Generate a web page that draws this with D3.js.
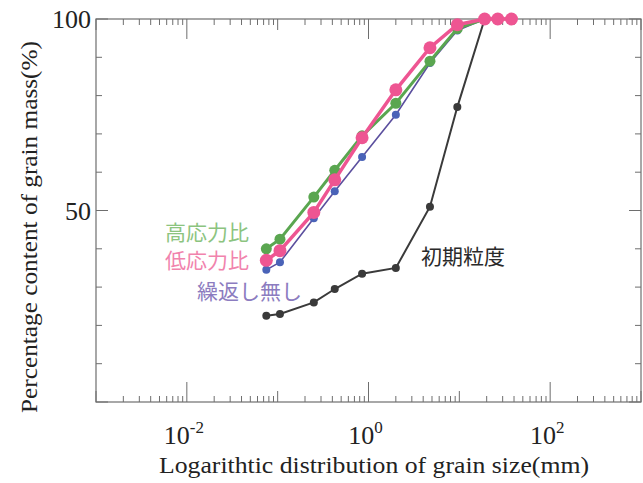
<!DOCTYPE html>
<html>
<head>
<meta charset="utf-8">
<script src="https://cdn.jsdelivr.net/npm/d3@7"></script>
<style>
  body { margin: 0; background: #fff; }
  svg { display: block; }
</style>
</head>
<body>
<svg id="chart" width="643" height="483"></svg>
<script>
// sieve sizes (mm)
var sizes = [0.075, 0.106, 0.25, 0.425, 0.85, 2, 4.75, 9.5, 19, 26.5, 37.5]

var initialPass = [22.5, 23, 26, 29.5, 33.5, 35, 51, 77, 100]
var highRatio   = [40, 42.5, 53.5, 60.5, 69.5, 78, 89, 97.5, 100, 100, 100]
var lowRatio    = [37, 39.5, 49.5, 58, 69, 81.5, 92.5, 98.5, 100, 100, 100]
var noCycle     = [34.5, 36.5, 48, 55, 64, 75, 88.5, 97, 100, 100, 100]

var xDecades = [-3, -2, -1, 0, 1, 2, 3]
var xLabelled = [-2, 0, 2]
var yTicks = [0, 10, 20, 30, 40, 50, 60, 70, 80, 90, 100]
var yLabels = [50, 100]

var svg = d3.select("#chart")
var L = 96, R = 641, T = 19, B = 402

var x = d3.scaleLog().domain([1e-3, 1e3]).range([L, R])
var y = d3.scaleLinear().domain([0, 100]).range([B, T])

var frame = "#6e6e6e"
var serif = "'Liberation Serif', 'Times New Roman', serif"
var cjk = "'Noto Sans CJK JP', sans-serif"

// frame
svg.append("rect")
  .attr("x", L).attr("y", T)
  .attr("width", R - L).attr("height", B - T)
  .attr("fill", "none").attr("stroke", frame).attr("stroke-width", 1.2)

// log ticks top and bottom, pointing inward
var xt = []
xDecades.forEach(function(e) {
  for (var m = 1; m < 10; m++) {
    var v = m * Math.pow(10, e)
    if (v > 1e3) break
    var len = m == 1 ? (xLabelled.indexOf(e) >= 0 ? 20 : 11) : 6
    xt.push({v: v, len: len})
  }
})
var gx = svg.append("g")
gx.selectAll("line.b").data(xt).enter().append("line")
  .attr("x1", d => x(d.v)).attr("x2", d => x(d.v))
  .attr("y1", B).attr("y2", d => B - d.len)
  .attr("stroke", frame).attr("stroke-width", 1)
gx.selectAll("line.t").data(xt).enter().append("line")
  .attr("x1", d => x(d.v)).attr("x2", d => x(d.v))
  .attr("y1", T).attr("y2", d => T + d.len)
  .attr("stroke", frame).attr("stroke-width", 1)

// y ticks left and right
var gy = svg.append("g")
gy.selectAll("line.l").data(yTicks).enter().append("line")
  .attr("x1", L).attr("x2", d => L + (d % 50 == 0 ? 12 : 6))
  .attr("y1", d => y(d)).attr("y2", d => y(d))
  .attr("stroke", frame).attr("stroke-width", 1)
gy.selectAll("line.r").data(yTicks).enter().append("line")
  .attr("x1", R).attr("x2", d => R - (d % 50 == 0 ? 12 : 6))
  .attr("y1", d => y(d)).attr("y2", d => y(d))
  .attr("stroke", frame).attr("stroke-width", 1)

// tick labels
var xl = svg.selectAll("text.xl").data(xLabelled).enter().append("text")
  .attr("x", d => x(Math.pow(10, d)) - 3)
  .attr("y", 444)
  .attr("text-anchor", "middle")
  .attr("font-family", serif).attr("font-size", 26).attr("fill", "#222")
xl.append("tspan").text("10")
xl.append("tspan").attr("dy", -11).attr("font-size", 17).text(d => d)

svg.selectAll("text.yl").data(yLabels).enter().append("text")
  .attr("x", 91).attr("y", d => y(d) + 9)
  .attr("text-anchor", "end")
  .attr("font-family", serif).attr("font-size", 26).attr("fill", "#222")
  .text(d => d)

// axis titles
svg.append("text")
  .attr("x", 374).attr("y", 473)
  .attr("text-anchor", "middle")
  .attr("font-family", serif).attr("font-size", 23).attr("fill", "#222")
  .attr("textLength", 430).attr("lengthAdjust", "spacingAndGlyphs")
  .text("Logarithtic distribution of grain size(mm)")

svg.append("text")
  .attr("transform", "translate(37,227) rotate(-90)")
  .attr("text-anchor", "middle")
  .attr("font-family", serif).attr("font-size", 23).attr("fill", "#222")
  .attr("textLength", 372).attr("lengthAdjust", "spacingAndGlyphs")
  .text("Percentage content of grain mass(%)")

// series
var series = [
  {vals: initialPass, line: "#3a3a3a", dot: "#3a3a3a", w: 2, r: 4},
  {vals: noCycle, line: "#5b4f9e", dot: "#4a63b8", w: 1.6, r: 4},
  {vals: highRatio, line: "#5aa650", dot: "#5aa650", w: 3, r: 5.5},
  {vals: lowRatio, line: "#ee5592", dot: "#ee5592", w: 3.5, r: 6.5}
]

var line = d3.line().x(d => x(d[0])).y(d => y(d[1]))

series.forEach(function(s) {
  var pts = s.vals.map((v, i) => [sizes[i], v])
  svg.append("path").datum(pts)
    .attr("d", line)
    .attr("fill", "none").attr("stroke", s.line).attr("stroke-width", s.w)
  svg.selectAll(null).data(pts).enter().append("circle")
    .attr("cx", d => x(d[0])).attr("cy", d => y(d[1]))
    .attr("r", s.r).attr("fill", s.dot)
})

// labels
var notes = [
  {t: "高応力比", x: 165, y: 240, c: "#8cc47f"},
  {t: "低応力比", x: 165, y: 268, c: "#f183ad"},
  {t: "繰返し無し", x: 197, y: 299, c: "#8c7cc0"},
  {t: "初期粒度", x: 421, y: 264, c: "#2a2a2a"}
]
svg.selectAll("text.note").data(notes).enter().append("text")
  .attr("x", d => d.x).attr("y", d => d.y)
  .attr("font-family", cjk).attr("font-size", 21).attr("fill", d => d.c)
  .text(d => d.t)
</script>
</body>
</html>
